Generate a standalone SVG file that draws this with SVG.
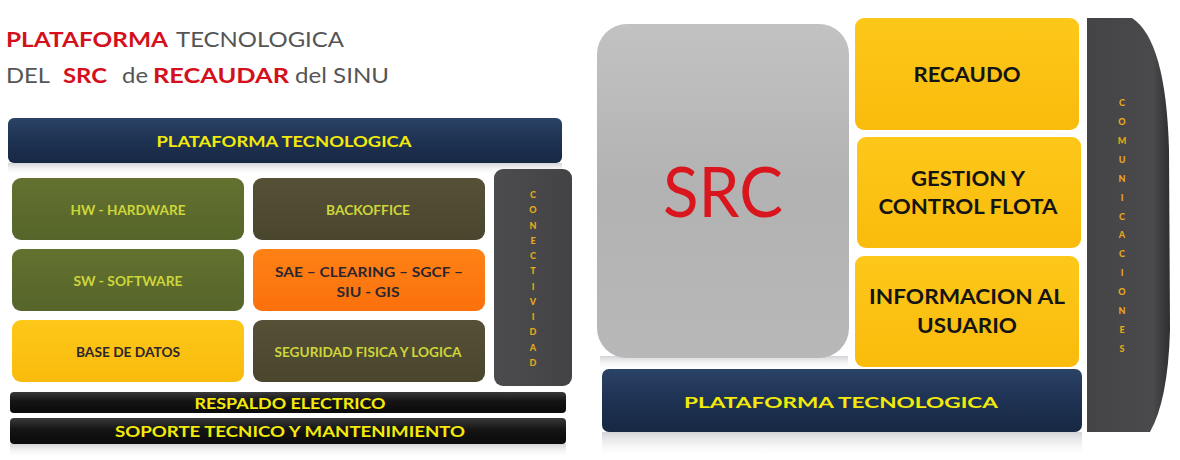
<svg xmlns="http://www.w3.org/2000/svg" width="1180" height="460" viewBox="0 0 1180 460">
<defs>
<linearGradient id="gNavy" x1="0" y1="0" x2="0" y2="1"><stop offset="0" stop-color="#2b4366"/><stop offset="0.5" stop-color="#1e3253"/><stop offset="1" stop-color="#172842"/></linearGradient>
<linearGradient id="gBlack" x1="0" y1="0" x2="0" y2="1"><stop offset="0" stop-color="#3a3a3a"/><stop offset="0.45" stop-color="#141414"/><stop offset="1" stop-color="#0a0a0a"/></linearGradient>
<linearGradient id="gOlive" x1="0" y1="0" x2="0" y2="1"><stop offset="0" stop-color="#63722f"/><stop offset="1" stop-color="#56652a"/></linearGradient>
<linearGradient id="gDark" x1="0" y1="0" x2="0" y2="1"><stop offset="0" stop-color="#555036"/><stop offset="1" stop-color="#4a462e"/></linearGradient>
<linearGradient id="gOrange" x1="0" y1="0" x2="0" y2="1"><stop offset="0" stop-color="#ff8216"/><stop offset="1" stop-color="#fb700c"/></linearGradient>
<linearGradient id="gYellow" x1="0" y1="0" x2="0" y2="1"><stop offset="0" stop-color="#fdc81a"/><stop offset="1" stop-color="#f9bb0c"/></linearGradient>
<linearGradient id="gGray" x1="0" y1="0" x2="0" y2="1"><stop offset="0" stop-color="#c2c2c2"/><stop offset="0.5" stop-color="#b2b2b2"/><stop offset="1" stop-color="#b8b8b8"/></linearGradient>
<linearGradient id="gConn" x1="0" y1="0" x2="1" y2="0"><stop offset="0" stop-color="#4c4c4e"/><stop offset="1" stop-color="#434345"/></linearGradient>
<linearGradient id="gCom" x1="0" y1="0" x2="1" y2="0"><stop offset="0" stop-color="#444446"/><stop offset="0.8" stop-color="#4a4a4c"/><stop offset="1" stop-color="#2e2e30"/></linearGradient>
<linearGradient id="gRefl" x1="0" y1="0" x2="0" y2="1"><stop offset="0" stop-color="#c8c8ce" stop-opacity="0.8"/><stop offset="1" stop-color="#ffffff" stop-opacity="0"/></linearGradient>
</defs>
<style>
.t{font-family:Lato,"Open Sans","Liberation Sans",sans-serif;}
.b{font-weight:bold;}
.ttl{font-size:21px;}
.red{fill:#d3101c;}
.gry{fill:#555555;}
.lbl{font-size:13.5px;font-weight:bold;text-anchor:middle;}
.yg{fill:#cdd63a;}
.dk{fill:#2a2630;}
.bar{font-size:16px;font-weight:bold;text-anchor:middle;fill:#f4ea0a;}
.big{font-size:21px;font-weight:bold;text-anchor:middle;fill:#141414;}
.vert{font-size:9px;font-weight:900;text-anchor:middle;fill:#e6a81a;}
</style>
<rect width="1180" height="460" fill="#ffffff"/>

<g id="title" class="t ttl">
<text x="6" y="47" class="b red" textLength="162" lengthAdjust="spacingAndGlyphs">PLATAFORMA</text>
<text x="176" y="47" class="gry" textLength="168" lengthAdjust="spacingAndGlyphs">TECNOLOGICA</text>
<text x="6" y="83" class="gry" textLength="44" lengthAdjust="spacingAndGlyphs">DEL</text>
<text x="63" y="83" class="b red" textLength="44" lengthAdjust="spacingAndGlyphs">SRC</text>
<text x="122" y="83" class="gry" textLength="26" lengthAdjust="spacingAndGlyphs">de</text>
<text x="153" y="83" class="b red" textLength="136" lengthAdjust="spacingAndGlyphs">RECAUDAR</text>
<text x="295" y="83" class="gry" textLength="94" lengthAdjust="spacingAndGlyphs">del SINU</text>
</g>

<g id="reflections">
<rect x="8" y="163" width="554" height="12" fill="url(#gRefl)"/>
<rect x="10" y="444" width="556" height="14" fill="url(#gRefl)"/>
<rect x="602" y="432" width="480" height="26" fill="url(#gRefl)"/>
<rect x="600" y="356" width="248" height="14" fill="url(#gRefl)"/>
</g>

<g id="plataforma-left">
<rect x="8" y="118" width="554" height="45" rx="6" fill="url(#gNavy)"/>
<text class="t bar" x="284" y="147" font-size="15" textLength="255" lengthAdjust="spacingAndGlyphs">PLATAFORMA TECNOLOGICA</text>
</g>

<g id="hw">
<rect x="12" y="178" width="232" height="62" rx="9" fill="url(#gOlive)"/>
<text class="t lbl yg" x="128" y="215" textLength="115" lengthAdjust="spacingAndGlyphs">HW - HARDWARE</text>
</g>
<g id="sw">
<rect x="12" y="249" width="232" height="62" rx="9" fill="url(#gOlive)"/>
<text class="t lbl yg" x="128" y="286" textLength="109" lengthAdjust="spacingAndGlyphs">SW - SOFTWARE</text>
</g>
<g id="base-datos">
<rect x="12" y="320" width="232" height="62" rx="9" fill="url(#gYellow)"/>
<text class="t lbl dk" x="128" y="357" textLength="104" lengthAdjust="spacingAndGlyphs">BASE DE DATOS</text>
</g>
<g id="backoffice">
<rect x="253" y="178" width="232" height="62" rx="9" fill="url(#gDark)"/>
<text class="t lbl yg" x="368" y="215" textLength="84" lengthAdjust="spacingAndGlyphs">BACKOFFICE</text>
</g>
<g id="sae">
<rect x="253" y="249" width="232" height="62" rx="9" fill="url(#gOrange)"/>
<text class="t lbl dk" x="369" y="277" textLength="188" lengthAdjust="spacingAndGlyphs">SAE – CLEARING – SGCF –</text>
<text class="t lbl dk" x="368" y="297" textLength="63" lengthAdjust="spacingAndGlyphs">SIU - GIS</text>
</g>
<g id="seguridad">
<rect x="253" y="320" width="232" height="62" rx="9" fill="url(#gDark)"/>
<text class="t lbl yg" x="368" y="357" textLength="187" lengthAdjust="spacingAndGlyphs">SEGURIDAD FISICA Y LOGICA</text>
</g>
<g id="conectividad">
<rect x="494" y="169" width="78" height="217" rx="9" fill="url(#gConn)"/>
<text class="t vert"><tspan x="533" y="198">C</tspan><tspan x="533" y="213">O</tspan><tspan x="533" y="229">N</tspan><tspan x="533" y="244">E</tspan><tspan x="533" y="259">C</tspan><tspan x="533" y="274">T</tspan><tspan x="533" y="290">I</tspan><tspan x="533" y="305">V</tspan><tspan x="533" y="320">I</tspan><tspan x="533" y="335">D</tspan><tspan x="533" y="351">A</tspan><tspan x="533" y="366">D</tspan></text>
</g>
<g id="respaldo">
<rect x="10" y="392" width="556" height="21" rx="4" fill="url(#gBlack)"/>
<text class="t bar" x="290" y="409" textLength="191" lengthAdjust="spacingAndGlyphs">RESPALDO ELECTRICO</text>
</g>
<g id="soporte">
<rect x="10" y="418" width="556" height="26" rx="4" fill="url(#gBlack)"/>
<text class="t bar" x="290" y="437" textLength="350" lengthAdjust="spacingAndGlyphs">SOPORTE TECNICO Y MANTENIMIENTO</text>
</g>

<g id="src">
<rect x="597" y="24" width="252" height="334" rx="30" fill="url(#gGray)"/>
<text class="t" x="723" y="217" font-size="70" fill="#d9161e" text-anchor="middle" textLength="120" lengthAdjust="spacingAndGlyphs">SRC</text>
</g>
<g id="recaudo">
<rect x="855" y="18" width="224" height="112" rx="9" fill="url(#gYellow)"/>
<text class="t big" x="967" y="82" textLength="107" lengthAdjust="spacingAndGlyphs">RECAUDO</text>
</g>
<g id="gestion">
<rect x="857" y="137" width="224" height="111" rx="9" fill="url(#gYellow)"/>
<text class="t big" x="968" y="186" textLength="114" lengthAdjust="spacingAndGlyphs">GESTION Y</text>
<text class="t big" x="968" y="214" textLength="179" lengthAdjust="spacingAndGlyphs">CONTROL FLOTA</text>
</g>
<g id="informacion">
<rect x="855" y="256" width="224" height="111" rx="9" fill="url(#gYellow)"/>
<text class="t big" x="967" y="304" textLength="196" lengthAdjust="spacingAndGlyphs">INFORMACION AL</text>
<text class="t big" x="967" y="333" textLength="100" lengthAdjust="spacingAndGlyphs">USUARIO</text>
</g>
<g id="comunicaciones">
<path d="M1087,18 L1132,18 Q1166,40 1169,150 L1170,330 Q1168,400 1150,432 L1087,432 Z" fill="url(#gCom)"/>
<text class="t vert" font-size="10"><tspan x="1122" y="106">C</tspan><tspan x="1122" y="125">O</tspan><tspan x="1122" y="144">M</tspan><tspan x="1122" y="163">U</tspan><tspan x="1122" y="182">N</tspan><tspan x="1122" y="201">I</tspan><tspan x="1122" y="220">C</tspan><tspan x="1122" y="238">A</tspan><tspan x="1122" y="257">C</tspan><tspan x="1122" y="276">I</tspan><tspan x="1122" y="295">O</tspan><tspan x="1122" y="314">N</tspan><tspan x="1122" y="333">E</tspan><tspan x="1122" y="352">S</tspan></text>
</g>
<g id="plataforma-right">
<rect x="602" y="369" width="480" height="63" rx="7" fill="url(#gNavy)"/>
<text class="t bar" x="841" y="408" font-size="20" textLength="314" lengthAdjust="spacingAndGlyphs">PLATAFORMA TECNOLOGICA</text>
</g>
<g id="connectors"/>
</svg>
